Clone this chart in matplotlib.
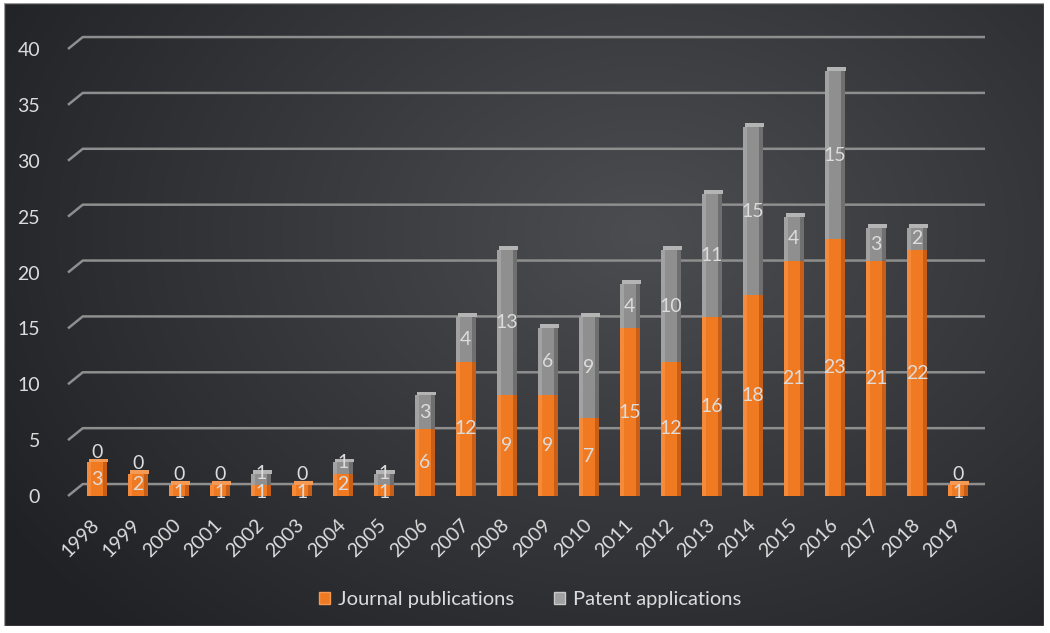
import numpy as np
import matplotlib.pyplot as plt
from matplotlib.patches import Patch, Rectangle

# data
years = ['1998', '1999', '2000', '2001', '2002', '2003', '2004', '2005', '2006', '2007', '2008',
         '2009', '2010', '2011', '2012', '2013', '2014', '2015', '2016', '2017', '2018', '2019']
journal = [3, 2, 1, 1, 1, 1, 2, 1, 6, 12, 9, 9, 7, 15, 12, 16, 18, 21, 23, 21, 22, 1]
patent = [0, 0, 0, 0, 1, 0, 1, 1, 3, 4, 13, 6, 9, 4, 10, 11, 15, 4, 15, 3, 2, 0]
yticks = [0, 5, 10, 15, 20, 25, 30, 35, 40]

plt.rcParams['font.family'] = ['Lato', 'DejaVu Sans']
txt = '#dcdcdc'

fig = plt.figure(figsize=(10.5, 6.33), dpi=100, facecolor='white')

# dark background with a soft radial glow
bg = fig.add_axes([4/1050, 7/633, 1040/1050, 623/633])
h, w = 623, 1040
yy, xx = np.mgrid[0:h, 0:w]
d = np.sqrt(((xx - 640) / 760.0) ** 2 + ((yy - 230) / 560.0) ** 2)
d = np.clip(d, 0, 1)
c0 = np.array([0x4b, 0x4d, 0x50]) / 255.0
c1 = np.array([0x1f, 0x21, 0x24]) / 255.0
img = c0[None, None, :] * (1 - d[..., None]) + c1[None, None, :] * d[..., None]
bg.imshow(img, aspect='auto', extent=[0, 1, 0, 1])
bg.set_xlim(0, 1)
bg.set_ylim(0, 1)
bg.axis('off')
bg.add_patch(Rectangle((0, 0), 1, 1, fill=False, ec='#9a9a9a', lw=1, transform=bg.transAxes))

ax = fig.add_axes([68/1050, 137/633, 917/1050, 447/633])
ax.set_facecolor('none')
for s in ax.spines.values():
    s.set_visible(False)
ax.set_xlim(-0.7, 21.66)
ax.set_ylim(0, 40)

# back-wall gridlines with a short slanted floor segment
for v in yticks:
    ax.plot([-0.7, -0.34, 21.66], [v, v + 1.07, v + 1.07], color='#8e8e8e', lw=1.8,
            zorder=0.5, clip_on=False, solid_capstyle='butt')

x = np.arange(len(years))
j = np.array(journal)
p = np.array(patent)
bw = 0.48
sw = 0.09

ax.bar(x, j, width=bw, color='#f07a22', zorder=2)
ax.bar(x + bw/2 - sw/2, j, width=sw, color='#c95f16', zorder=2.1)
ax.bar(x - bw/2 + sw/2, j, width=sw, color='#f48a3a', zorder=2.1)
ax.bar(x, p, bottom=j, width=bw, color='#8f8f8f', zorder=2)
ax.bar(x + bw/2 - sw/2, p, bottom=j, width=sw, color='#6f6f6f', zorder=2.1)
ax.bar(x - bw/2 + sw/2, p, bottom=j, width=sw, color='#a2a2a2', zorder=2.1)

# top caps
tops = j + p
capc = ['#b4b4b4' if pv > 0 else '#f59a55' for pv in patent]
ax.bar(x + 0.04, 0.35, bottom=tops, width=bw, color=capc, zorder=2.2)

for i in range(len(years)):
    jy = j[i] / 2 - (0.2 if j[i] == 1 else 0)
    py = j[i] + p[i] / 2 + (0.9 if p[i] == 0 else 0.5 if p[i] == 1 else 0)
    ax.text(x[i], jy, str(journal[i]), ha='center', va='center', color=txt,
            fontsize=14, zorder=3)
    ax.text(x[i], py, str(patent[i]), ha='center', va='center', color=txt,
            fontsize=14, zorder=3)

ax.set_yticks(yticks)
ax.set_xticks(x)
ax.set_xticklabels(years, rotation=45, ha='right', va='center', rotation_mode='anchor')
ax.tick_params(axis='y', length=0, pad=20, labelsize=14, labelcolor=txt)
ax.tick_params(axis='x', length=0, pad=19, labelsize=14, labelcolor=txt)

handles = [Patch(facecolor='#f07a22', edgecolor='#f59a55'), Patch(facecolor='#a0a0a0', edgecolor='#c8c8c8')]
fig.legend(handles, ['Journal publications', 'Patent applications'], loc='center',
           bbox_to_anchor=(530/1050, 33/633), ncol=2, frameon=False, fontsize=14.5,
           labelcolor=txt, handlelength=0.55, handleheight=0.55, handletextpad=0.4,
           columnspacing=2.0)

fig.savefig('out.png', dpi=100, facecolor='white')
